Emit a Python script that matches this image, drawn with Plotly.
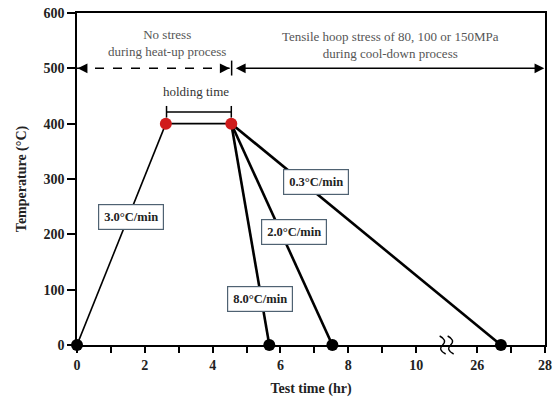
import plotly.graph_objects as go

# ---- data (real hours / °C) ----
heat_t = [0.0, 2.62]
heat_T = [0, 400]
hold_t = [2.62, 4.55]
hold_T = [400, 400]
cool8_t = [4.55, 5.67]
cool2_t = [4.55, 7.53]
cool03_t = [4.55, 26.7]
cool_T = [400, 0]
end_t = [0.0, 5.67, 7.53, 26.7]
end_T = [0, 0, 0, 0]
red_t = [2.62, 4.55]
red_T = [400, 400]
tick_hours = [0, 1, 2, 3, 4, 5, 6, 7, 8, 9, 10, 26, 27, 28]
tick_labels = ["0", "", "2", "", "4", "", "6", "", "8", "", "10", "26", "", "28"]
y_ticks = [0, 100, 200, 300, 400, 500, 600]

GAP = 1.8  # visual gap (in hour units) for the broken axis


def bx(t):
    return t if t <= 10 else t - 26 + 10 + GAP


def bxs(ts):
    return [bx(t) for t in ts]


FONT = "Liberation Serif"
fig = go.Figure()

fig.add_trace(go.Scatter(x=bxs(heat_t), y=heat_T, mode="lines",
                         line=dict(color="black", width=1.6), showlegend=False))
fig.add_trace(go.Scatter(x=bxs(hold_t), y=hold_T, mode="lines",
                         line=dict(color="black", width=1.6), showlegend=False))
for ct in (cool8_t, cool2_t, cool03_t):
    fig.add_trace(go.Scatter(x=bxs(ct), y=cool_T, mode="lines",
                             line=dict(color="black", width=2.6), showlegend=False))
fig.add_trace(go.Scatter(x=bxs(end_t), y=end_T, mode="markers", cliponaxis=False,
                         marker=dict(color="black", size=12), showlegend=False))
fig.add_trace(go.Scatter(x=bxs(red_t), y=red_T, mode="markers", cliponaxis=False,
                         marker=dict(color="#d01c1c", size=12), showlegend=False))

shapes = []
# dashed heat-up arrow line
shapes.append(dict(type="line", xref="x", yref="y", x0=0, x1=4.5, y0=500, y1=500,
                   line=dict(color="black", width=1.5, dash="dash")))
# separator bar
shapes.append(dict(type="line", xref="x", yref="y", x0=4.56, x1=4.56, y0=487, y1=514,
                   line=dict(color="black", width=1.5)))
# holding bracket
shapes.append(dict(type="line", xref="x", yref="y", x0=2.64, x1=4.55, y0=421, y1=421,
                   line=dict(color="black", width=1.5)))
shapes.append(dict(type="line", xref="x", yref="y", x0=2.64, x1=2.64, y0=411, y1=432,
                   line=dict(color="black", width=1.5)))
shapes.append(dict(type="line", xref="x", yref="y", x0=4.55, x1=4.55, y0=411, y1=432,
                   line=dict(color="black", width=1.5)))
# axis-break squiggles (pixel-sized, anchored on the axis)
brk = (bx(10) + bx(26)) / 2
for dx in (-4, 4):
    shapes.append(dict(type="path", xref="x", yref="paper", xsizemode="pixel", ysizemode="pixel",
                       xanchor=brk, yanchor=0,
                       path=f"M {dx-3},9 Q {dx+5},5 {dx},0 Q {dx-5},-5 {dx+3},-9",
                       line=dict(color="black", width=1.4)))

ann = []
# dashed arrow heads
ann.append(dict(x=0.02, y=500, xref="x", yref="y", ax=10, ay=0, showarrow=True,
                arrowhead=2, arrowsize=1.3, arrowwidth=1.5, arrowcolor="black", text=""))
ann.append(dict(x=4.5, y=500, xref="x", yref="y", ax=-10, ay=0, showarrow=True,
                arrowhead=2, arrowsize=1.3, arrowwidth=1.5, arrowcolor="black", text=""))
# solid double arrow
ann.append(dict(x=bx(28) - 0.02, y=500, xref="x", yref="y", ax=4.64, ay=500, axref="x", ayref="y",
                showarrow=True, arrowhead=2, startarrowhead=2, arrowside="end+start",
                arrowsize=1.3, startarrowsize=1.3, arrowwidth=1.5, arrowcolor="black", text=""))

ann.append(dict(x=2.65, y=546, xref="x", yref="y", showarrow=False,
                text="No stress<br>during heat-up process",
                font=dict(family=FONT, size=13, color="#555555")))
ann.append(dict(x=9.24, y=543, xref="x", yref="y", showarrow=False,
                text="Tensile hoop stress of 80, 100 or 150MPa<br>during cool-down process",
                font=dict(family=FONT, size=13, color="#555555")))
ann.append(dict(x=3.52, y=459, xref="x", yref="y", showarrow=False,
                text="holding time", font=dict(family=FONT, size=13, color="#333333")))

boxes = [("3.0°C/min", 1.6, 232), ("8.0°C/min", 5.41, 84),
         ("2.0°C/min", 6.41, 205), ("0.3°C/min", 7.06, 295)]
for txt, bxv, byv in boxes:
    ann.append(dict(x=bxv, y=byv, xref="x", yref="y", showarrow=False, text="<b>" + txt + "</b>",
                    font=dict(family=FONT, size=12.5, color="#222222"),
                    bgcolor="white", bordercolor="#4f6272", borderwidth=1.2, borderpad=5))

fig.update_layout(
    width=558, height=403,
    margin=dict(l=77, r=6, t=6, b=58),
    paper_bgcolor="white", plot_bgcolor="white",
    shapes=shapes, annotations=ann,
    font=dict(family=FONT, color="#222222"),
    xaxis=dict(range=[0, bx(28)], tickmode="array", tickvals=bxs(tick_hours), ticktext=tick_labels,
               ticks="outside", ticklen=6, tickwidth=1.5, tickcolor="black",
               showline=True, linecolor="black", linewidth=1.5, mirror=True,
               showgrid=False, zeroline=False,
               tickfont=dict(family=FONT, size=14, color="#222222", weight="bold"),
               title=dict(text="<b>Test time (hr)</b>", font=dict(family=FONT, size=14, color="#222222"),
                          standoff=12)),
    yaxis=dict(range=[0, 600], tickmode="array", tickvals=y_ticks,
               ticks="outside", ticklen=8, tickwidth=1.5, tickcolor="black",
               showline=True, linecolor="black", linewidth=1.5, mirror=True,
               showgrid=False, zeroline=False,
               tickfont=dict(family=FONT, size=14, color="#222222", weight="bold"),
               title=dict(text="<b>Temperature (°C)</b>", font=dict(family=FONT, size=14, color="#222222"),
                          standoff=14)),
)

fig.write_html("out.html")
